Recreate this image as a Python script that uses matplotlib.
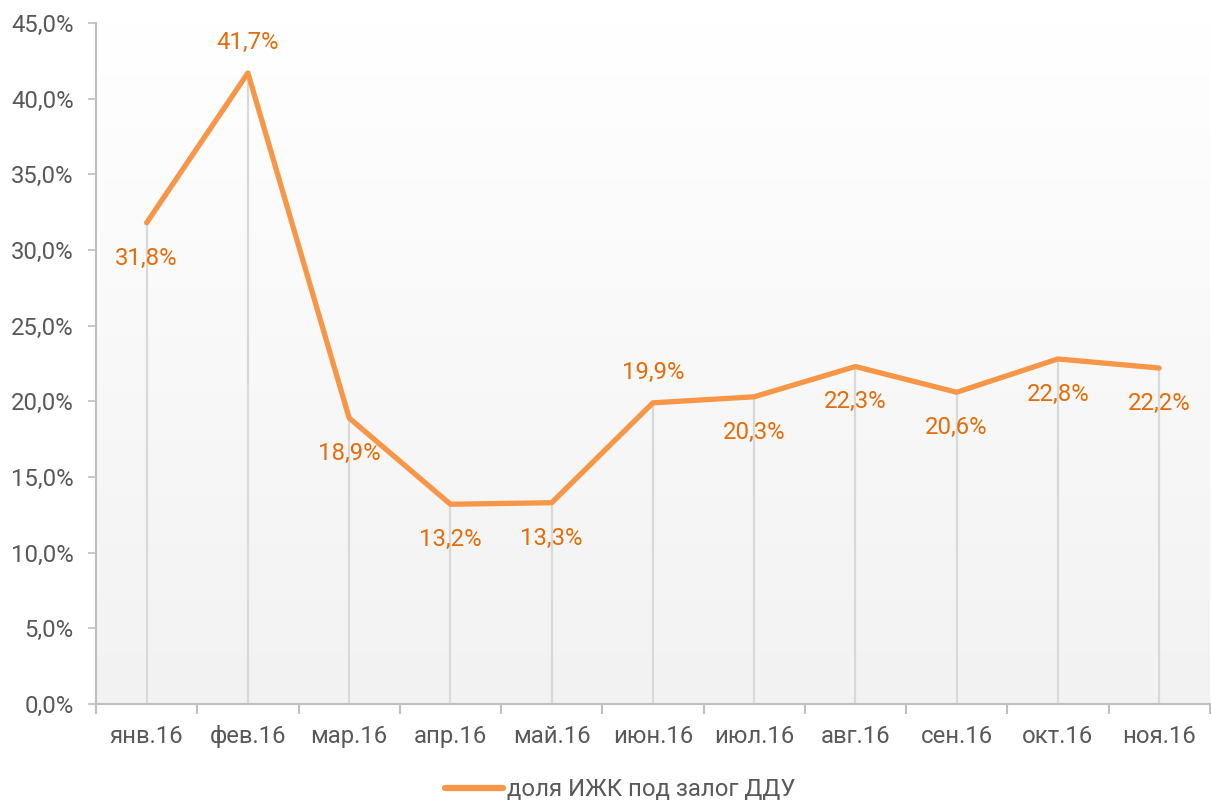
import numpy as np
import matplotlib
matplotlib.use('Agg')
import matplotlib.pyplot as plt
from matplotlib.colors import LinearSegmentedColormap

plt.rcParams['font.family'] = ['Roboto', 'DejaVu Sans']

# данные
months = ['янв.16', 'фев.16', 'мар.16', 'апр.16', 'май.16', 'июн.16',
          'июл.16', 'авг.16', 'сен.16', 'окт.16', 'ноя.16']
values = [31.8, 41.7, 18.9, 13.2, 13.3, 19.9, 20.3, 22.3, 20.6, 22.8, 22.2]
label_above = [False, True, False, False, False, True, False, False, False, False, False]

line_color = '#F79646'
label_color = '#E46C0A'
grey_txt = '#595959'
axis_grey = '#BFBFBF'
fs = 17.2

fig = plt.figure(figsize=(12.11, 8.0), dpi=100)
ax = fig.add_axes([0.0793, 0.12, 0.9197, 0.85125])

x = np.arange(len(months))
ax.set_xlim(-0.5, len(months) - 0.5)
ax.set_ylim(0, 45)

# фон с градиентом
grad = np.linspace(0, 1, 256).reshape(-1, 1)
cmap = LinearSegmentedColormap.from_list('bg', ['#F2F2F2', '#FFFFFF'])
ax.imshow(grad, cmap=cmap, aspect='auto', extent=[-0.5, len(months) - 0.5, 0, 45],
          origin='lower', zorder=0)

# вертикальные линии до оси
ax.vlines(x, 0, values, colors='#D9D9D9', linewidth=1.6, zorder=1)

ax.plot(x, values, color=line_color, linewidth=3.8, solid_capstyle='round',
        solid_joinstyle='round', zorder=3, label='доля ИЖК под залог ДДУ')

for xi, v, up in zip(x, values, label_above):
    off = 22 if up else -25.5
    ax.annotate(('%.1f%%' % v).replace('.', ','), (xi, v), xytext=(0, off),
                textcoords='offset points', ha='center', va='center',
                color=label_color, fontsize=fs, zorder=4)

ax.set_yticks(np.arange(0, 46, 5))
ax.set_yticklabels([('%.1f%%' % t).replace('.', ',') for t in np.arange(0, 46, 5)])
ax.set_xticks(x)
ax.set_xticklabels(months)
ax.set_xticks(np.arange(-0.5, len(months)), minor=True)

ax.tick_params(axis='y', colors=axis_grey, labelcolor=grey_txt, labelsize=fs,
               length=6, width=1.2, pad=10)
ax.tick_params(axis='x', which='major', length=0, labelcolor=grey_txt,
               labelsize=fs, pad=15)
ax.tick_params(axis='x', which='minor', length=7, width=1.5, colors=axis_grey)

for s in ['top', 'right']:
    ax.spines[s].set_visible(False)
for s in ['left', 'bottom']:
    ax.spines[s].set_color(axis_grey)
    ax.spines[s].set_linewidth(1.5)

leg = fig.legend(loc='center', bbox_to_anchor=(0.5124, 0.013), frameon=False,
                 fontsize=fs, handlelength=2.4, handletextpad=0.2)
for t in leg.get_texts():
    t.set_color(grey_txt)
for h in leg.get_lines():
    h.set_linewidth(4.5)

fig.savefig('out.png', dpi=100)
